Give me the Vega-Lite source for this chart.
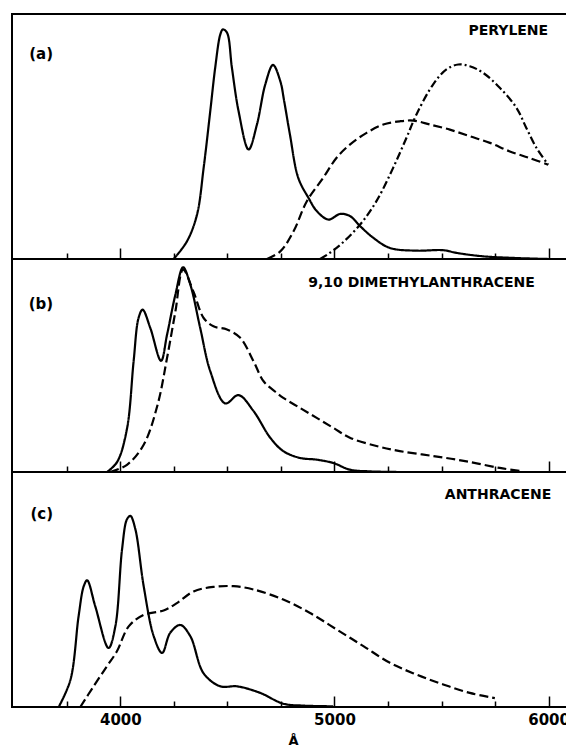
{
  "$schema": "https://vega.github.io/schema/vega-lite/v6.json",
  "padding": {"left": 11, "top": 13, "right": 0, "bottom": 0},
  "background": "white",
  "config": {
    "view": {"stroke": "black", "strokeWidth": 2},
    "axis": {"grid": false, "domain": false, "tickColor": "black", "tickWidth": 1.5, "orient": "bottom"},
    "text": {"font": "DejaVu Sans", "fontWeight": "bold", "fontSize": 14, "color": "black"},
    "line": {"interpolate": "catmull-rom", "color": "black", "strokeWidth": 2.2}
  },
  "datasets": {
    "a": [
      {"wl": 4249, "I": 0, "s": "solid"}, {"wl": 4311, "I": 7.2, "s": "solid"}, {"wl": 4358, "I": 18.1, "s": "solid"},
      {"wl": 4389, "I": 37.2, "s": "solid"}, {"wl": 4420, "I": 60.4, "s": "solid"}, {"wl": 4443, "I": 78.1, "s": "solid"},
      {"wl": 4467, "I": 91.7, "s": "solid"}, {"wl": 4479, "I": 93.7, "s": "solid"}, {"wl": 4498, "I": 92.4, "s": "solid"},
      {"wl": 4521, "I": 78.1, "s": "solid"}, {"wl": 4552, "I": 60.4, "s": "solid"}, {"wl": 4599, "I": 44.7, "s": "solid"},
      {"wl": 4638, "I": 54.9, "s": "solid"}, {"wl": 4677, "I": 71.3, "s": "solid"}, {"wl": 4713, "I": 79.2, "s": "solid"},
      {"wl": 4747, "I": 72.6, "s": "solid"}, {"wl": 4765, "I": 64.5, "s": "solid"}, {"wl": 4792, "I": 50.8, "s": "solid"},
      {"wl": 4831, "I": 33.1, "s": "solid"}, {"wl": 4879, "I": 24.9, "s": "solid"}, {"wl": 4918, "I": 19.5, "s": "solid"},
      {"wl": 4972, "I": 16.1, "s": "solid"}, {"wl": 5027, "I": 18.4, "s": "solid"}, {"wl": 5073, "I": 17.5, "s": "solid"},
      {"wl": 5120, "I": 13.4, "s": "solid"}, {"wl": 5182, "I": 8.6, "s": "solid"}, {"wl": 5259, "I": 4.5, "s": "solid"},
      {"wl": 5383, "I": 3.4, "s": "solid"}, {"wl": 5508, "I": 3.6, "s": "solid"}, {"wl": 5570, "I": 2.5, "s": "solid"},
      {"wl": 5694, "I": 1.1, "s": "solid"}, {"wl": 5848, "I": 0.4, "s": "solid"}, {"wl": 5998, "I": 0, "s": "solid"},
      {"wl": 4685, "I": 0, "s": "dashed"}, {"wl": 4747, "I": 3.1, "s": "dashed"}, {"wl": 4809, "I": 11.3, "s": "dashed"},
      {"wl": 4871, "I": 23.6, "s": "dashed"}, {"wl": 4947, "I": 33.1, "s": "dashed"}, {"wl": 5010, "I": 41.3, "s": "dashed"},
      {"wl": 5072, "I": 46.7, "s": "dashed"}, {"wl": 5150, "I": 51.5, "s": "dashed"}, {"wl": 5228, "I": 54.9, "s": "dashed"},
      {"wl": 5305, "I": 56.2, "s": "dashed"}, {"wl": 5368, "I": 56.5, "s": "dashed"}, {"wl": 5446, "I": 54.9, "s": "dashed"},
      {"wl": 5539, "I": 52.8, "s": "dashed"}, {"wl": 5632, "I": 50.1, "s": "dashed"}, {"wl": 5726, "I": 47.4, "s": "dashed"},
      {"wl": 5819, "I": 43.9, "s": "dashed"}, {"wl": 5912, "I": 41.2, "s": "dashed"}, {"wl": 5998, "I": 38.5, "s": "dashed"},
      {"wl": 4933, "I": 0, "s": "dashdot"}, {"wl": 5010, "I": 4.5, "s": "dashdot"}, {"wl": 5119, "I": 14, "s": "dashdot"},
      {"wl": 5196, "I": 23.6, "s": "dashdot"}, {"wl": 5274, "I": 37.2, "s": "dashdot"}, {"wl": 5336, "I": 49.4, "s": "dashdot"},
      {"wl": 5383, "I": 59, "s": "dashdot"}, {"wl": 5461, "I": 71.3, "s": "dashdot"}, {"wl": 5523, "I": 77.4, "s": "dashdot"},
      {"wl": 5578, "I": 79.4, "s": "dashdot"}, {"wl": 5632, "I": 78.7, "s": "dashdot"}, {"wl": 5694, "I": 76, "s": "dashdot"},
      {"wl": 5772, "I": 69.9, "s": "dashdot"}, {"wl": 5850, "I": 61.7, "s": "dashdot"}, {"wl": 5896, "I": 53.5, "s": "dashdot"},
      {"wl": 5943, "I": 45.4, "s": "dashdot"}, {"wl": 5998, "I": 38.5, "s": "dashdot"}
    ],
    "b": [
      {"wl": 3938, "I": 0, "s": "solid"}, {"wl": 3985, "I": 4.7, "s": "solid"}, {"wl": 4031, "I": 20.3, "s": "solid"},
      {"wl": 4062, "I": 52, "s": "solid"}, {"wl": 4085, "I": 72.3, "s": "solid"}, {"wl": 4104, "I": 76.2, "s": "solid"},
      {"wl": 4140, "I": 67.6, "s": "solid"}, {"wl": 4190, "I": 52.2, "s": "solid"}, {"wl": 4218, "I": 64.4, "s": "solid"},
      {"wl": 4257, "I": 83.2, "s": "solid"}, {"wl": 4293, "I": 96.1, "s": "solid"}, {"wl": 4327, "I": 87.9, "s": "solid"},
      {"wl": 4373, "I": 67.6, "s": "solid"}, {"wl": 4420, "I": 47.3, "s": "solid"}, {"wl": 4490, "I": 32.2, "s": "solid"},
      {"wl": 4552, "I": 36.1, "s": "solid"}, {"wl": 4622, "I": 28.6, "s": "solid"}, {"wl": 4700, "I": 16.1, "s": "solid"},
      {"wl": 4761, "I": 9.8, "s": "solid"}, {"wl": 4839, "I": 6.6, "s": "solid"}, {"wl": 4917, "I": 5.8, "s": "solid"},
      {"wl": 4995, "I": 4.2, "s": "solid"}, {"wl": 5072, "I": 1.1, "s": "solid"}, {"wl": 5165, "I": 0.3, "s": "solid"},
      {"wl": 5300, "I": 0, "s": "solid"},
      {"wl": 3953, "I": 0, "s": "dashed"}, {"wl": 4031, "I": 3.4, "s": "dashed"}, {"wl": 4109, "I": 12.8, "s": "dashed"},
      {"wl": 4174, "I": 31.6, "s": "dashed"}, {"wl": 4218, "I": 53.5, "s": "dashed"}, {"wl": 4257, "I": 75.3, "s": "dashed"},
      {"wl": 4293, "I": 95, "s": "dashed"}, {"wl": 4342, "I": 84.5, "s": "dashed"}, {"wl": 4389, "I": 72.3, "s": "dashed"},
      {"wl": 4435, "I": 68.4, "s": "dashed"}, {"wl": 4498, "I": 66.9, "s": "dashed"}, {"wl": 4560, "I": 63, "s": "dashed"},
      {"wl": 4622, "I": 52, "s": "dashed"}, {"wl": 4669, "I": 42.6, "s": "dashed"}, {"wl": 4731, "I": 37.1, "s": "dashed"},
      {"wl": 4761, "I": 34.8, "s": "dashed"}, {"wl": 4839, "I": 30.1, "s": "dashed"}, {"wl": 4917, "I": 25.4, "s": "dashed"},
      {"wl": 4995, "I": 20.7, "s": "dashed"}, {"wl": 5072, "I": 16.1, "s": "dashed"}, {"wl": 5196, "I": 12.2, "s": "dashed"},
      {"wl": 5305, "I": 9.8, "s": "dashed"}, {"wl": 5461, "I": 7.5, "s": "dashed"}, {"wl": 5617, "I": 5, "s": "dashed"},
      {"wl": 5772, "I": 1.9, "s": "dashed"}, {"wl": 5881, "I": 0.3, "s": "dashed"}
    ],
    "c": [
      {"wl": 3712, "I": 0, "s": "solid"}, {"wl": 3767, "I": 11.6, "s": "solid"}, {"wl": 3805, "I": 38.6, "s": "solid"},
      {"wl": 3829, "I": 51.4, "s": "solid"}, {"wl": 3845, "I": 53.9, "s": "solid"}, {"wl": 3883, "I": 42.8, "s": "solid"},
      {"wl": 3945, "I": 25.1, "s": "solid"}, {"wl": 3977, "I": 34.5, "s": "solid"}, {"wl": 4008, "I": 67.1, "s": "solid"},
      {"wl": 4031, "I": 79.9, "s": "solid"}, {"wl": 4047, "I": 81.3, "s": "solid"}, {"wl": 4070, "I": 75.7, "s": "solid"},
      {"wl": 4109, "I": 51.4, "s": "solid"}, {"wl": 4156, "I": 30.1, "s": "solid"}, {"wl": 4195, "I": 23, "s": "solid"},
      {"wl": 4233, "I": 31.6, "s": "solid"}, {"wl": 4280, "I": 34.9, "s": "solid"}, {"wl": 4327, "I": 30.1, "s": "solid"},
      {"wl": 4389, "I": 14.3, "s": "solid"}, {"wl": 4467, "I": 8.8, "s": "solid"}, {"wl": 4545, "I": 8.8, "s": "solid"},
      {"wl": 4653, "I": 6, "s": "solid"}, {"wl": 4761, "I": 1.4, "s": "solid"}, {"wl": 4854, "I": 0.6, "s": "solid"},
      {"wl": 4994, "I": 0.3, "s": "solid"},
      {"wl": 3813, "I": 0, "s": "dashed"}, {"wl": 3875, "I": 8.8, "s": "dashed"}, {"wl": 3937, "I": 17.3, "s": "dashed"},
      {"wl": 3984, "I": 23.7, "s": "dashed"}, {"wl": 4039, "I": 34.3, "s": "dashed"}, {"wl": 4109, "I": 39.2, "s": "dashed"},
      {"wl": 4202, "I": 41.1, "s": "dashed"}, {"wl": 4264, "I": 44.2, "s": "dashed"}, {"wl": 4342, "I": 49.2, "s": "dashed"},
      {"wl": 4435, "I": 51.1, "s": "dashed"}, {"wl": 4529, "I": 51.4, "s": "dashed"}, {"wl": 4622, "I": 50, "s": "dashed"},
      {"wl": 4761, "I": 45.7, "s": "dashed"}, {"wl": 4886, "I": 40, "s": "dashed"}, {"wl": 5010, "I": 33, "s": "dashed"},
      {"wl": 5135, "I": 25.9, "s": "dashed"}, {"wl": 5259, "I": 18.8, "s": "dashed"}, {"wl": 5383, "I": 13.8, "s": "dashed"},
      {"wl": 5508, "I": 9.6, "s": "dashed"}, {"wl": 5632, "I": 6, "s": "dashed"}, {"wl": 5749, "I": 3.8, "s": "dashed"}
    ]
  },
  "vconcat": [
    {
      "width": 558, "height": 245,
      "encoding": {"y": {"field": "I", "type": "quantitative", "scale": {"domain": [0, 100], "nice": false}, "axis": null}},
      "layer": [
        {"data": {"name": "a"}, "mark": "line",
          "encoding": {
            "x": {"field": "wl", "type": "quantitative", "scale": {"domain": [3494, 6100], "nice": false, "zero": false},
              "axis": {"orient": "bottom", "values": [3750, 4250, 4500, 4750, 5250, 5500, 5750], "tickSize": -6, "labels": false, "title": null}},
            "strokeDash": {"field": "s", "type": "nominal", "legend": null,
              "scale": {"domain": ["solid", "dashed", "dashdot"], "range": [[1, 0], [9, 4], [8, 3, 2, 3]]}}}},
        {"data": {"values": [{"wl": 3686, "I": 83.5, "t": "(a)"}, {"wl": 5998, "I": 93.1, "t": "PERYLENE"}]},
          "mark": {"type": "text", "align": "right", "baseline": "middle"},
          "encoding": {
            "x": {"field": "wl", "type": "quantitative", "scale": {"domain": [3494, 6100], "nice": false, "zero": false},
              "axis": {"orient": "bottom", "values": [4000, 5000, 6000], "tickSize": -11, "labels": false, "title": null}},
            "text": {"field": "t"},
            "size": {"condition": {"test": "datum.t === '(a)'", "value": 15}, "value": 14}}}
      ],
      "resolve": {"scale": {"x": "independent"}, "axis": {"x": "independent"}}
    },
    {
      "width": 558, "height": 213,
      "encoding": {"y": {"field": "I", "type": "quantitative", "scale": {"domain": [0, 100], "nice": false}, "axis": null}},
      "layer": [
        {"data": {"name": "b"}, "mark": "line",
          "encoding": {
            "x": {"field": "wl", "type": "quantitative", "scale": {"domain": [3494, 6100], "nice": false, "zero": false},
              "axis": {"orient": "bottom", "values": [3750, 4250, 4500, 4750, 5250, 5500, 5750], "tickSize": -6, "labels": false, "title": null}},
            "strokeDash": {"field": "s", "type": "nominal", "legend": null,
              "scale": {"domain": ["solid", "dashed", "dashdot"], "range": [[1, 0], [9, 4], [8, 3, 2, 3]]}}}},
        {"data": {"values": [{"wl": 3686, "I": 79, "t": "(b)"}, {"wl": 5936, "I": 88.7, "t": "9,10 DIMETHYLANTHRACENE"}]},
          "mark": {"type": "text", "align": "right", "baseline": "middle"},
          "encoding": {
            "x": {"field": "wl", "type": "quantitative", "scale": {"domain": [3494, 6100], "nice": false, "zero": false},
              "axis": {"orient": "bottom", "values": [4000, 5000, 6000], "tickSize": -11, "labels": false, "title": null}},
            "text": {"field": "t"},
            "size": {"condition": {"test": "datum.t === '(b)'", "value": 15}, "value": 14}}}
      ],
      "resolve": {"scale": {"x": "independent"}, "axis": {"x": "independent"}}
    },
    {
      "width": 558, "height": 235,
      "encoding": {"y": {"field": "I", "type": "quantitative", "scale": {"domain": [0, 100], "nice": false}, "axis": null}},
      "layer": [
        {"data": {"name": "c"}, "mark": "line",
          "encoding": {
            "x": {"field": "wl", "type": "quantitative", "scale": {"domain": [3494, 6100], "nice": false, "zero": false},
              "axis": {"orient": "bottom", "values": [3750, 4250, 4500, 4750, 5250, 5500, 5750], "tickSize": -6, "labels": false, "title": null}},
            "strokeDash": {"field": "s", "type": "nominal", "legend": null,
              "scale": {"domain": ["solid", "dashed", "dashdot"], "range": [[1, 0], [9, 4], [8, 3, 2, 3]]}}}},
        {"data": {"values": [{"wl": 3686, "I": 82, "t": "(c)"}, {"wl": 6013, "I": 90.1, "t": "ANTHRACENE"}]},
          "mark": {"type": "text", "align": "right", "baseline": "middle"},
          "encoding": {
            "x": {"field": "wl", "type": "quantitative", "scale": {"domain": [3494, 6100], "nice": false, "zero": false},
              "axis": {"orient": "bottom", "values": [4000, 5000, 6000], "tickSize": -11, "format": "d",
                "labelFont": "DejaVu Sans", "labelFontWeight": "bold", "labelFontSize": 15, "labelColor": "black",
                "labelPadding": 16, "labelBaseline": "top",
                "title": "Å", "titleFont": "DejaVu Sans", "titleFontWeight": "bold", "titleFontSize": 13, "titleColor": "black",
                "titleX": 281, "titleY": 33, "titleAlign": "center", "titleBaseline": "middle"}},
            "text": {"field": "t"},
            "size": {"condition": {"test": "datum.t === '(c)'", "value": 15}, "value": 14}}}
      ],
      "resolve": {"scale": {"x": "independent"}, "axis": {"x": "independent"}}
    }
  ],
  "spacing": 0,
  "bounds": "flush"
}
